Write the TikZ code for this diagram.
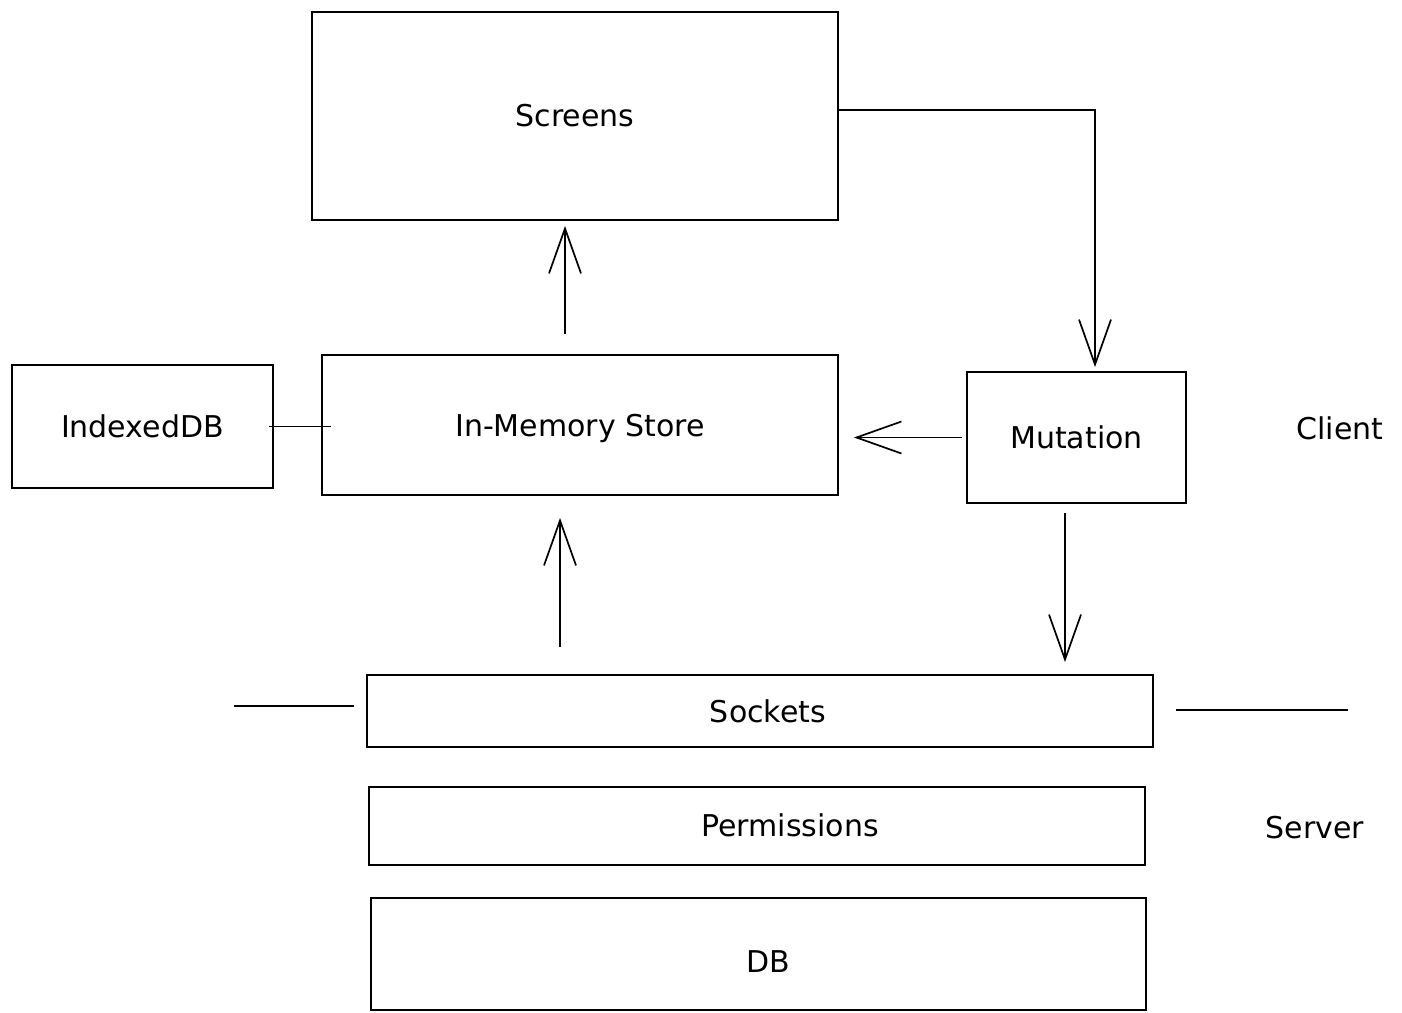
\documentclass[tikz,border=0pt]{standalone}
\usepackage{fontspec}
\setmainfont{DejaVu Sans}
\usetikzlibrary{arrows.meta,calc}
\begin{document}
\begin{tikzpicture}[x=1pt,y=-1pt,
  box/.style={draw=black,line width=1.8pt,rectangle,inner sep=0pt,font=\fontsize{30}{34}\selectfont},
  lbl/.style={font=\fontsize{30}{34}\selectfont,inner sep=0pt},
  conn/.style={draw=black,line width=1.7pt},
  arr/.style={conn,-{Straight Barb[length=45pt,width=32pt,line width=1.7pt]}}]
\useasboundingbox[fill=white] (0,0) rectangle (1402,1012);
\node[box,minimum width=526pt,minimum height=208pt] (scr) at (575,116) {Screens};
\node[box,minimum width=261pt,minimum height=123pt] (idb) at (142.5,426.5) {IndexedDB};
\node[box,minimum width=516pt,minimum height=140pt] (mem) at (580,425) {};
\node[lbl] (memt) at (580,428) {In-Memory Store};
\node[box,minimum width=219pt,minimum height=131pt] (mut) at (1076.5,437.5) {Mutation};
\node[lbl] (cli) at (1340,428) {Client};
\node[box,minimum width=786pt,minimum height=72pt] (sock) at (760,711) {};
\node[lbl] (sockt) at (768,711) {Sockets};
\node[box,minimum width=776pt,minimum height=78pt] (perm) at (757,826) {};
\node[lbl] (permt) at (790,825) {Permissions};
\node[lbl] (srv) at (1315,828) {Server};
\node[box,minimum width=775pt,minimum height=112pt] (db) at (758.5,954) {};
\node[lbl] (dbt) at (768,962) {DB};
% connectors
\draw[arr] ([shift={(-15,-20)}]mem.north) -- ([shift={(-10,5)}]scr.south);
\draw[arr] ([shift={(0,-6)}]scr.east) -| ([shift={(18.5,-4)}]mut.north);
\draw[arr] ([xshift=-4]mut.west) -- ($(mem.east |- mut.west)+(15,0)$);
\draw[conn] ([xshift=-5]idb.east) -- ($(mem.west |- idb.east)+(10,0)$);
\draw[arr] ([shift={(-200,-27)}]sock.north) -- ([shift={(-20,22)}]mem.south);
\draw[arr] ([shift={(-11.5,9)}]mut.south) -- ($(mut.south |- sock.north)+(-11.5,-12)$);
\draw[conn] ([shift={(-12,-5)}]sock.west) -- ([shift={(-132,-5)}]sock.west);
\draw[conn] ([shift={(22,-1)}]sock.east) -- ([shift={(194,-1)}]sock.east);
\end{tikzpicture}
\end{document}
